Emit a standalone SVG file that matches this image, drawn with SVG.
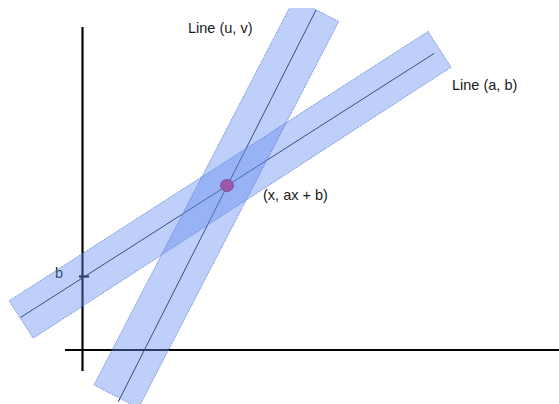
<svg xmlns="http://www.w3.org/2000/svg" width="559" height="404" viewBox="0 0 559 404">
  <style>
    .axis { stroke: #000; stroke-width: 2.2; fill: none; }
    .center { stroke: #1a1f3a; stroke-width: 1; fill: none; }
    .band { fill: rgb(100,140,240); fill-opacity: 0.42; stroke: #5d80dc; stroke-width: 1; stroke-dasharray: 1 1; }
    .label { font-family: "Liberation Sans", Arial, sans-serif; font-size: 14.5px; fill: #1a1a1a; }
  </style>
  <defs>
    <clipPath id="clipTop">
      <rect x="0" y="8" width="559" height="396"/>
    </clipPath>
  </defs>
  <rect x="0" y="0" width="559" height="404" fill="#ffffff"/>

  <g id="axes">
    <line class="axis" x1="82.5" y1="27" x2="82.5" y2="371"/>
    <line class="axis" x1="65" y1="350" x2="559" y2="350"/>
    <line class="axis" x1="79" y1="276.5" x2="89" y2="276.5"/>
  </g>

  <g id="connectors">
    <line class="center" x1="434.3" y1="53.3" x2="20.5" y2="317.5"/>
    <line class="center" x1="316" y1="10" x2="118.3" y2="401.7"/>
  </g>

  <g id="label-b">
    <text class="label" x="55" y="278">b</text>
  </g>

  <g id="band-ab">
    <polygon class="band" points="428,31.5 451,67.2 33.2,338.2 9.1,300.8"/>
  </g>

  <g id="band-uv" clip-path="url(#clipTop)">
    <polygon class="band" points="294.3,-1.5 338.7,21.5 138.4,408 94,385"/>
  </g>

  <g id="point">
    <ellipse cx="227" cy="185.5" rx="6.5" ry="6" fill="#9a58a8" stroke="#7a4896" stroke-width="0.8"/>
  </g>

  <g id="label-uv">
    <text class="label" x="188" y="33">Line (u, v)</text>
  </g>
  <g id="label-ab">
    <text class="label" x="452" y="90">Line (a, b)</text>
  </g>
  <g id="label-point">
    <text class="label" x="263" y="200">(x, ax + b)</text>
  </g>
</svg>
